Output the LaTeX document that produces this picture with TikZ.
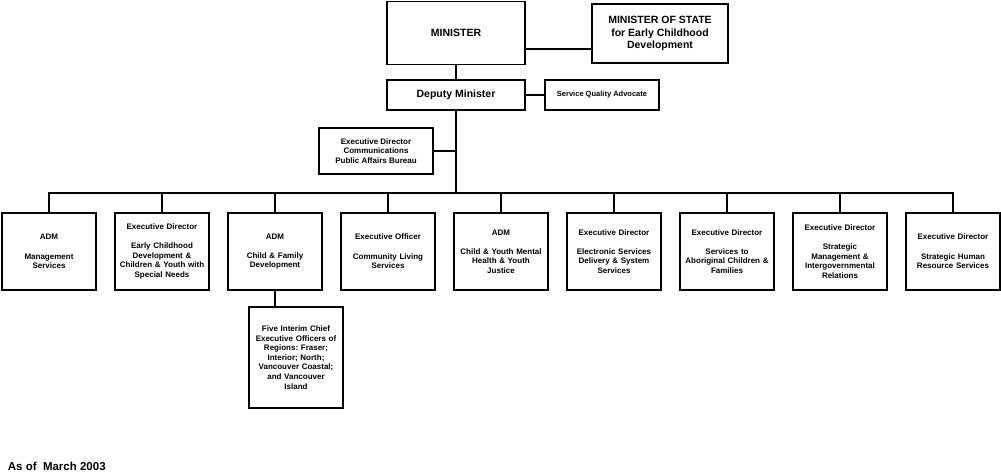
\documentclass[tikz,border=0pt]{standalone}
\usepackage{fontspec}
\setmainfont{Liberation Sans}
\usetikzlibrary{chains,positioning}
\frenchspacing

\begin{document}
\begin{tikzpicture}[x=1pt, y=-1pt,
line width=1.1pt,
node distance=19pt,
 start chain = D going right,
    B/.style = {rectangle, draw,% big boxes at the top
                font=\bfseries\fontsize{10.5}{12.8}\selectfont,
                align=center, outer sep=0pt},
    S/.style = {rectangle, draw,% small boxes
                font=\bfseries\fontsize{8}{9.6}\selectfont,
                align=center, outer sep=0pt, inner sep=2pt},
    U/.style = {S, text width=90pt, minimum height=77pt, on chain},% units in the row
                        ]
\useasboundingbox (0,0) rectangle (1001,476);
% top of the chart
\node[B, minimum width=138pt, minimum height=63pt] (min) at (456,33) {MINISTER};
\node[B, minimum width=136pt, minimum height=59pt] (mos) at (660,33.5)
    {MINISTER OF STATE\\for Early Childhood\\Development};
\node[B, minimum width=138pt, minimum height=30pt] (dm) at (456,95) {Deputy Minister};
\node[S, font=\bfseries\fontsize{7.5}{9}\selectfont,
      minimum width=114pt, minimum height=30pt, right=20pt of dm] (sqa)
    {Service Quality Advocate};
\node[S, minimum width=114pt, minimum height=46pt] (com) at (376,151)
    {Executive Director\\Communications\\Public Affairs Bureau};
\coordinate (bar) at (456,193);
% row of units
\begin{scope}[shift={(49,251.5)}]
\foreach \i in {{ADM\\[9.6pt]Management\\Services},
                {Executive Director\\[9.6pt]Early Childhood\\Development \&\\Children \& Youth with\\Special Needs},
                {ADM\\[9.6pt]Child \& Family\\Development},
                {Executive Officer\\[9.6pt]Community Living\\Services},
                {ADM\\[9.6pt]Child \& Youth Mental\\Health \& Youth\\Justice},
                {Executive Director\\[9.6pt]Electronic Services\\Delivery \& System\\Services},
                {Executive Director\\[9.6pt]Services to\\Aboriginal Children \&\\Families},
                {Executive Director\\[9.6pt]Strategic\\Management \&\\Intergovernmental\\Relations},
                {Executive Director\\[9.6pt]Strategic Human\\Resource Services}}% <-- content of nodes
    \node[U] {\i};
\end{scope}
\node[S, text width=90pt, minimum height=101pt] (five) at (296,357.5)
    {Five Interim Chief\\Executive Officers of\\Regions: Fraser;\\Interior; North;\\Vancouver Coastal;\\and Vancouver\\Island};
\node[font=\bfseries\fontsize{11.5}{13}\selectfont, anchor=base west] (asof) at (4,470.5)
    {As of\ \ March 2003};
% connectors
\draw (min) -- (dm);
\draw ([yshift=-16pt]min.east) -- ([yshift=-16pt]min.east -| mos.west);
\draw (dm) -- (sqa);
\draw (dm) -- (bar);
\draw (com) -- (com -| dm);
\draw (D-1.north) -- (D-1.north |- bar) -- (D-9.north |- bar) -- (D-9.north);
\foreach \n in {2,...,8}
    \draw (D-\n.north) -- (D-\n.north |- bar);
\draw (D-3.south) -- (D-3.south |- five.north);
\end{tikzpicture}
\end{document}
